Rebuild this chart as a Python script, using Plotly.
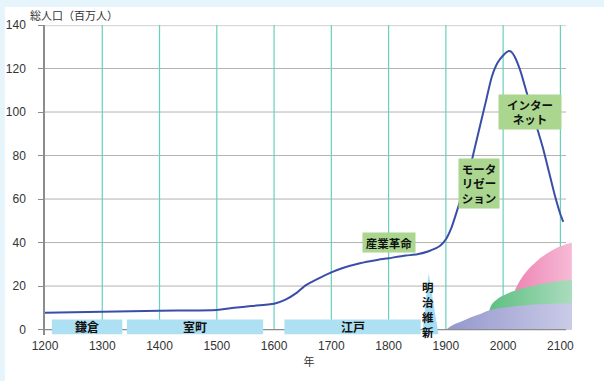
import plotly.graph_objects as go

# Japan total population (millions) by year
years = [1200, 1300, 1400, 1500, 1530, 1560, 1600, 1620, 1640, 1655, 1680, 1700,
         1720, 1750, 1780, 1800, 1830, 1850, 1870, 1890, 1900, 1910, 1920, 1930,
         1940, 1950, 1960, 1970, 1980, 1990, 2000, 2010, 2015, 2020, 2030, 2040,
         2050, 2060, 2070, 2080, 2090, 2100, 2105]
population = [7.7, 8.2, 8.7, 9.0, 10.0, 10.8, 11.9, 13.8, 17.0, 20.3, 23.8, 26.3,
              28.3, 30.5, 32.0, 32.8, 34.0, 34.6, 36.0, 38.5, 41.5, 47.0, 55.0, 63.5,
              72.0, 83.0, 94.0, 105.0, 116.0, 122.5, 126.0, 128.0, 127.5, 125.5, 119.0, 110.0,
              101.0, 92.0, 83.0, 72.5, 62.0, 53.0, 49.5]

# Technology waves drawn as growing areas
motor_years = [1902, 1910, 1920, 1930, 1940, 1950, 1960, 1970, 1980, 1990, 2000, 2020, 2040, 2060, 2080, 2100, 2120]
motor_vals = [0.3, 1.8, 3.0, 4.1, 5.2, 6.2, 7.2, 8.3, 9.1, 9.7, 10.0, 10.7, 11.2, 11.6, 11.8, 12.0, 12.0]
green_years = [1976, 1980, 1990, 2000, 2010, 2020, 2040, 2060, 2080, 2100, 2120]
green_vals = [8.9, 11.5, 14.0, 15.6, 16.8, 17.8, 19.3, 20.5, 21.5, 22.3, 23.0]
pink_years = [2021, 2030, 2040, 2050, 2060, 2070, 2080, 2090, 2100, 2110, 2120]
pink_vals = [18.3, 22.8, 26.5, 29.3, 31.8, 33.8, 35.5, 37.0, 38.3, 39.2, 40.0]

# Historical eras along the time axis
era_names = ["鎌倉", "室町", "江戸"]
era_start = [1212, 1343, 1618]
era_end = [1335, 1581, 1856]
meiji_year = 1870

# Labelled milestones: text, year, value
milestone_text = ["産業革命", "モータ<br>リゼー<br>ション", "インター<br>ネット"]
milestone_x = [1801, 1958.5, 2047.6]
milestone_y = [40.2, 67.2, 100.1]
milestone_w = [52, 40, 62]
milestone_h = [19, 49, 34]

x_ticks = list(range(1200, 2101, 100))
y_ticks = list(range(0, 141, 20))

X_MAX = 2122
GRID_END = 2110
JP = "Noto Sans CJK JP"
NUM = "Liberation Sans, Arial, sans-serif"

fig = go.Figure()

# Growth areas (pink behind green behind purple)
fig.add_trace(go.Scatter(
    x=pink_years, y=pink_vals, mode="lines", line=dict(width=0, shape="spline"),
    fill="tozeroy",
    fillgradient=dict(type="horizontal", colorscale=[[0, "#ee86b4"], [1, "#f6bad6"]]),
    hoverinfo="skip", showlegend=False))
fig.add_trace(go.Scatter(
    x=green_years, y=green_vals, mode="lines", line=dict(width=0, shape="spline"),
    fill="tozeroy",
    fillgradient=dict(type="horizontal", colorscale=[[0, "#5fbf82"], [1, "#aadcbd"]]),
    hoverinfo="skip", showlegend=False))
fig.add_trace(go.Scatter(
    x=motor_years, y=motor_vals, mode="lines", line=dict(width=0, shape="spline"),
    fill="tozeroy",
    fillgradient=dict(type="horizontal", colorscale=[[0, "#9497cd"], [1, "#cacbe7"]]),
    hoverinfo="skip", showlegend=False))

# Population curve
fig.add_trace(go.Scatter(
    x=years, y=population, mode="lines",
    line=dict(color="#3a4ea8", width=2, shape="spline", smoothing=0.6),
    hoverinfo="skip", showlegend=False))

shapes = []
# White panel on the pale blue page
shapes.append(dict(type="rect", xref="paper", yref="paper", layer="below",
                   x0=-0.076, x1=1.1, y0=-0.2, y1=1.058,
                   fillcolor="white", line=dict(width=0)))
# Horizontal grid
for v in y_ticks[1:]:
    top = v == y_ticks[-1]
    shapes.append(dict(type="line", xref="x", yref="y", layer="below",
                       x0=x_ticks[0], x1=GRID_END, y0=v, y1=v,
                       line=dict(color="#d9d9d9" if top else "#b3b3b3",
                                 width=2.5 if top else 1)))
# Vertical grid
for t in x_ticks[1:]:
    shapes.append(dict(type="line", xref="x", yref="y", layer="below",
                       x0=t, x1=t, y0=0, y1=y_ticks[-1],
                       line=dict(color="#66d1be", width=1.2)))
# Baseline
shapes.append(dict(type="line", xref="x", yref="y", layer="above",
                   x0=x_ticks[0], x1=GRID_END, y0=0, y1=0,
                   line=dict(color="#8c8c8c", width=1.2)))
# Era bars
for s, e in zip(era_start, era_end):
    shapes.append(dict(type="rect", xref="x", yref="y", layer="above",
                       x0=s, x1=e, y0=-2.1, y1=4.6,
                       fillcolor="#ade0f3", line=dict(width=0)))
# Meiji spike
shapes.append(dict(type="path", xref="x", yref="y", layer="above",
                   path=f"M {meiji_year - 11},-2.1 L {meiji_year},26 L {meiji_year + 17},-2.1 Z",
                   fillcolor="#a6ddf2", line=dict(width=0)))

annotations = []
for name, s, e in zip(era_names, era_start, era_end):
    annotations.append(dict(x=(s + e) / 2, y=1.2, xref="x", yref="y",
                            text=f"<b>{name}</b>", showarrow=False,
                            font=dict(family=JP, size=12, color="#111")))
annotations.append(dict(x=meiji_year - 0.5, y=9.2, xref="x", yref="y",
                        text="<b>明<br>治<br>維<br>新</b>", showarrow=False,
                        font=dict(family=JP, size=11.5, color="#111")))
for txt, mx, my, w, h in zip(milestone_text, milestone_x, milestone_y, milestone_w, milestone_h):
    annotations.append(dict(x=mx, y=my, xref="x", yref="y", text=f"<b>{txt}</b>",
                            showarrow=False, bgcolor="#aad68f", borderpad=0,
                            width=w, height=h, align="center",
                            font=dict(family=JP, size=11.5, color="#111")))
annotations.append(dict(x=-0.033, y=1.031, xref="paper", yref="paper",
                        xanchor="left", yanchor="middle", text="総人口（百万人）",
                        showarrow=False, font=dict(family=JP, size=11, color="#333")))

fig.update_layout(
    width=604, height=381,
    margin=dict(l=45, r=31, t=25, b=46),
    paper_bgcolor="#e6f4fb", plot_bgcolor="rgba(0,0,0,0)",
    shapes=shapes, annotations=annotations,
    xaxis=dict(range=[1200, X_MAX], tickvals=x_ticks, showgrid=False, zeroline=False,
               showline=False, ticks="", automargin=False,
               ticklabelstandoff=2,
               tickfont=dict(family=NUM, size=12, color="#333"),
               title=dict(text="年", font=dict(family=JP, size=11, color="#333"), standoff=6)),
    yaxis=dict(range=[-2.5, 140], tickvals=y_ticks, showgrid=False, zeroline=False,
               showline=True, linecolor="#8c8c8c", linewidth=1.5,
               ticks="outside", ticklen=5, tickcolor="#8c8c8c", automargin=False,
               ticklabelstandoff=10,
               tickfont=dict(family=NUM, size=12, color="#333")),
)

fig.write_html("out.html")
